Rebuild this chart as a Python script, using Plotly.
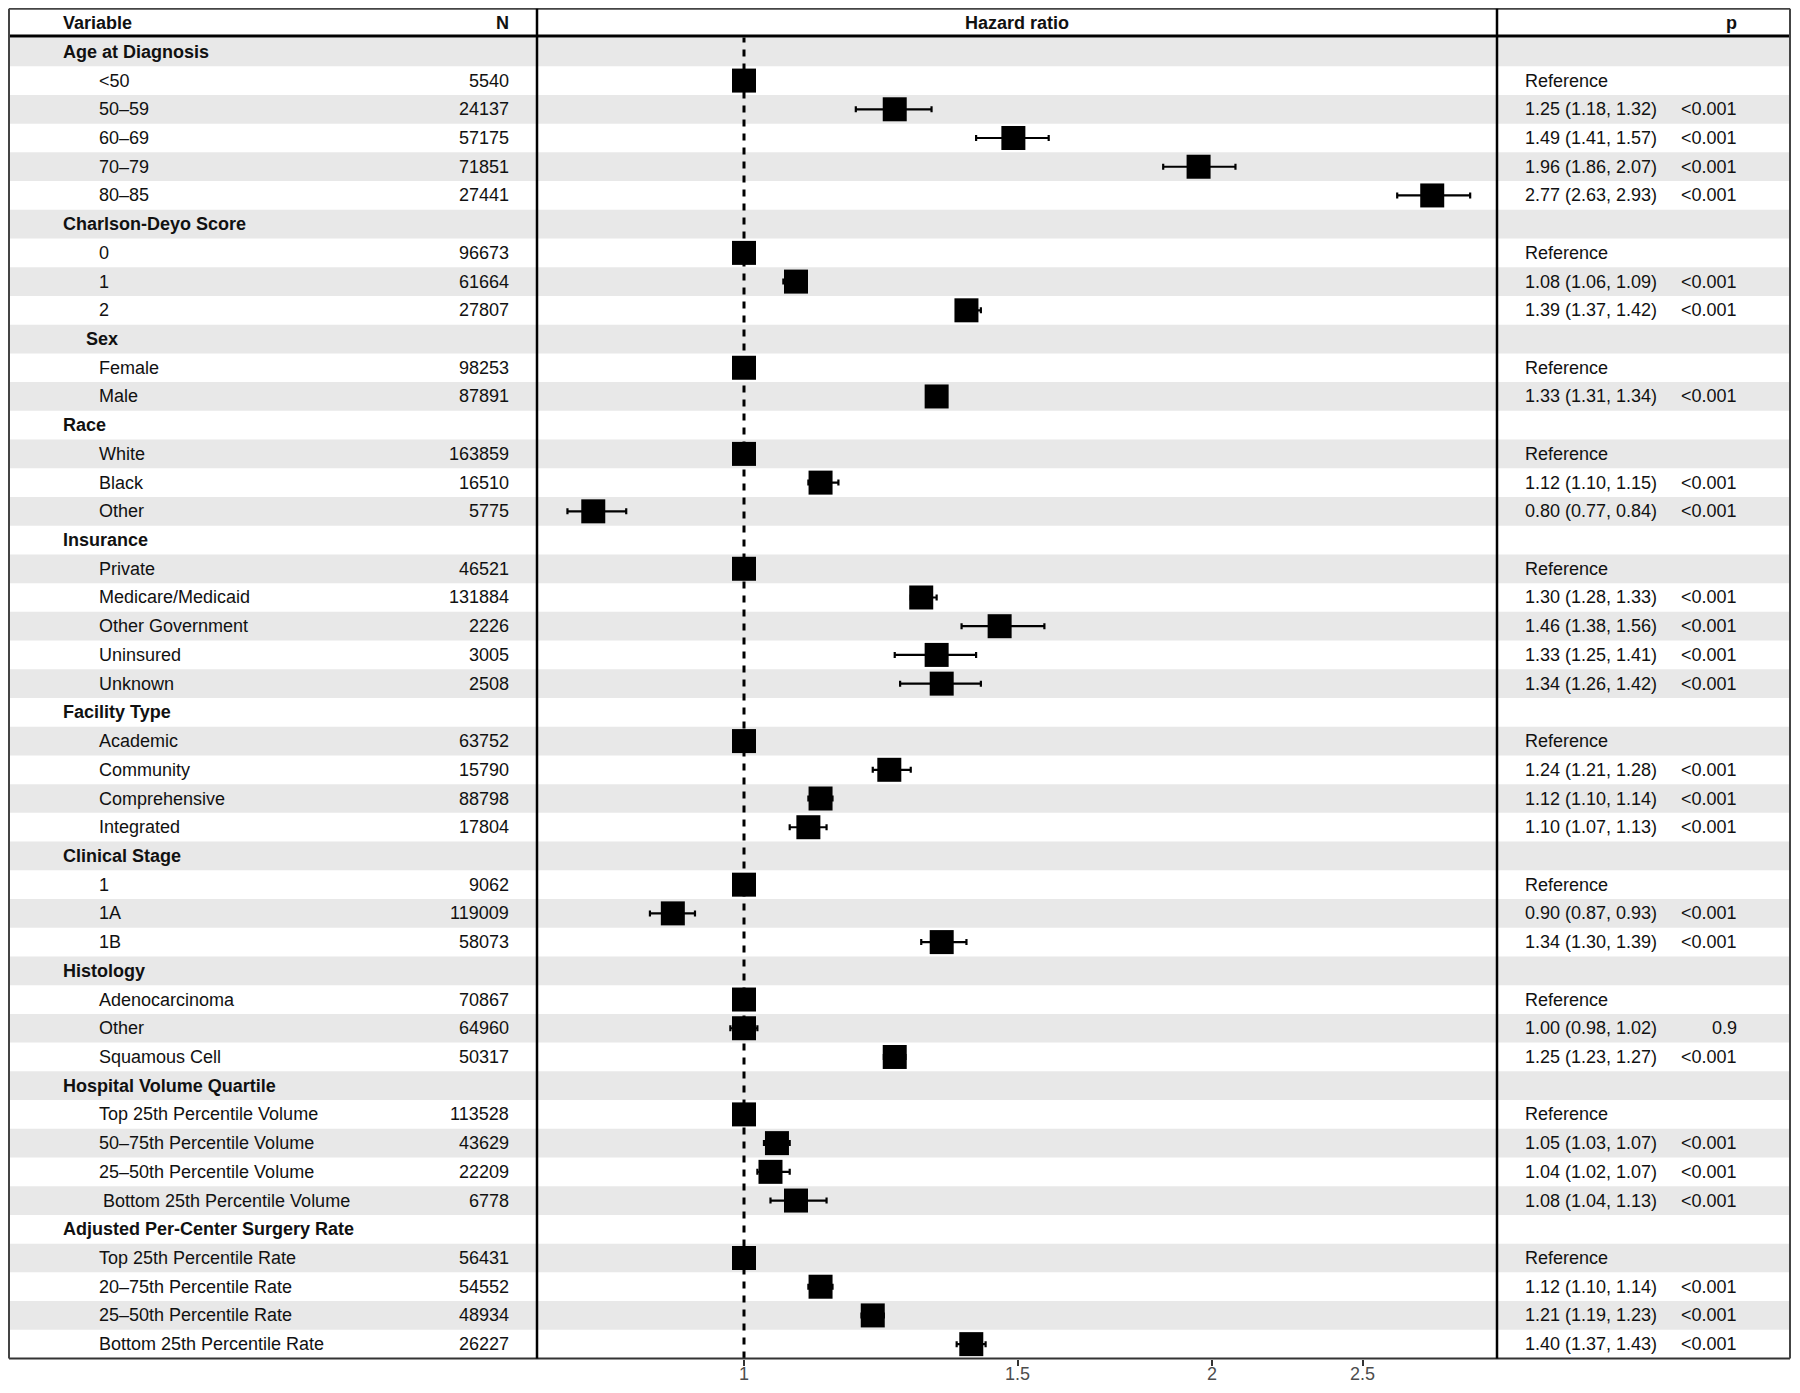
import math
import plotly.graph_objects as go

# ---------------- data ----------------
labels = ["Age at Diagnosis", "<50", "50–59", "60–69", "70–79", "80–85",
          "Charlson-Deyo Score", "0", "1", "2",
          "Sex", "Female", "Male",
          "Race", "White", "Black", "Other",
          "Insurance", "Private", "Medicare/Medicaid", "Other Government", "Uninsured", "Unknown",
          "Facility Type", "Academic", "Community", "Comprehensive", "Integrated",
          "Clinical Stage", "1", "1A", "1B",
          "Histology", "Adenocarcinoma", "Other", "Squamous Cell",
          "Hospital Volume Quartile", "Top 25th Percentile Volume", "50–75th Percentile Volume",
          "25–50th Percentile Volume", "Bottom 25th Percentile Volume",
          "Adjusted Per-Center Surgery Rate", "Top 25th Percentile Rate", "20–75th Percentile Rate",
          "25–50th Percentile Rate", "Bottom 25th Percentile Rate"]

is_group = [True, False, False, False, False, False,
            True, False, False, False,
            True, False, False,
            True, False, False, False,
            True, False, False, False, False, False,
            True, False, False, False, False,
            True, False, False, False,
            True, False, False, False,
            True, False, False, False, False,
            True, False, False, False, False]

n_obs = [None, 5540, 24137, 57175, 71851, 27441,
         None, 96673, 61664, 27807,
         None, 98253, 87891,
         None, 163859, 16510, 5775,
         None, 46521, 131884, 2226, 3005, 2508,
         None, 63752, 15790, 88798, 17804,
         None, 9062, 119009, 58073,
         None, 70867, 64960, 50317,
         None, 113528, 43629, 22209, 6778,
         None, 56431, 54552, 48934, 26227]

hr = [None, 1, 1.25, 1.49, 1.96, 2.77,
      None, 1, 1.08, 1.39,
      None, 1, 1.33,
      None, 1, 1.12, 0.80,
      None, 1, 1.30, 1.46, 1.33, 1.34,
      None, 1, 1.24, 1.12, 1.10,
      None, 1, 0.90, 1.34,
      None, 1, 1.00, 1.25,
      None, 1, 1.05, 1.04, 1.08,
      None, 1, 1.12, 1.21, 1.40]

ci_lo = [None, None, 1.18, 1.41, 1.86, 2.63,
         None, None, 1.06, 1.37,
         None, None, 1.31,
         None, None, 1.10, 0.77,
         None, None, 1.28, 1.38, 1.25, 1.26,
         None, None, 1.21, 1.10, 1.07,
         None, None, 0.87, 1.30,
         None, None, 0.98, 1.23,
         None, None, 1.03, 1.02, 1.04,
         None, None, 1.10, 1.19, 1.37]

ci_hi = [None, None, 1.32, 1.57, 2.07, 2.93,
         None, None, 1.09, 1.42,
         None, None, 1.34,
         None, None, 1.15, 0.84,
         None, None, 1.33, 1.56, 1.41, 1.42,
         None, None, 1.28, 1.14, 1.13,
         None, None, 0.93, 1.39,
         None, None, 1.02, 1.27,
         None, None, 1.07, 1.07, 1.13,
         None, None, 1.14, 1.23, 1.43]

p_values = ["", "", "<0.001", "<0.001", "<0.001", "<0.001",
            "", "", "<0.001", "<0.001",
            "", "", "<0.001",
            "", "", "<0.001", "<0.001",
            "", "", "<0.001", "<0.001", "<0.001", "<0.001",
            "", "", "<0.001", "<0.001", "<0.001",
            "", "", "<0.001", "<0.001",
            "", "", "0.9", "<0.001",
            "", "", "<0.001", "<0.001", "<0.001",
            "", "", "<0.001", "<0.001", "<0.001"]

x_ticks = [1, 1.5, 2, 2.5]
x_tick_labels = ["1", "1.5", "2", "2.5"]

# ---------------- layout geometry (figure pixels) ----------------
W, H = 1784, 1377
ROW_TOP, ROW_BOT = 29.5, 1350.5
PANEL_L, PANEL_R = 529, 1489
BOX_L, BOX_R, BOX_T = 1, 1782, 0.8
FONT = "Liberation Sans, Arial, Helvetica, sans-serif"
TXT = "#111111"
BAND = "#E8E8E8"

def px(v):
    return v / W

def py(v):
    return 1 - v / H

nrows = len(labels)
# log axis range: x=1 at 736 px, 1555.4 px per decade
ONE_PX, DEC_PX = 736, 1555.4
xr = [(PANEL_L - ONE_PX) / DEC_PX, (PANEL_R - ONE_PX) / DEC_PX]

fig = go.Figure()

# markers with CIs
xs, ys, ep, em = [], [], [], []
for i in range(nrows):
    if hr[i] is None:
        continue
    xs.append(hr[i])
    ys.append(i)
    if ci_lo[i] is None:
        ep.append(0)
        em.append(0)
    else:
        ep.append(ci_hi[i] - hr[i])
        em.append(hr[i] - ci_lo[i])

fig.add_trace(go.Scatter(
    x=xs, y=ys, mode="markers",
    marker=dict(symbol="square", size=24, color="black", line=dict(width=0)),
    error_x=dict(type="data", symmetric=False, array=ep, arrayminus=em,
                 color="black", thickness=2.2, width=3),
    hoverinfo="skip", showlegend=False, cliponaxis=False,
))

shapes = []
# row bands
for i in range(0, nrows, 2):
    shapes.append(dict(type="rect", xref="paper", yref="y",
                       x0=px(BOX_L + 1), x1=px(BOX_R - 1), y0=i - 0.5, y1=i + 0.5,
                       fillcolor=BAND, line=dict(width=0), layer="below"))
# reference dashed line
shapes.append(dict(type="line", xref="x", yref="paper", x0=1, x1=1,
                   y0=py(ROW_BOT), y1=py(ROW_TOP),
                   line=dict(color="black", width=3, dash="7px,7px"), layer="below"))
# borders
def hline(yf, color, width, x0=BOX_L, x1=BOX_R):
    shapes.append(dict(type="line", xref="paper", yref="paper", x0=px(x0), x1=px(x1),
                       y0=py(yf), y1=py(yf), line=dict(color=color, width=width), layer="above"))

def vline(xf, color, width, y0=BOX_T, y1=ROW_BOT):
    shapes.append(dict(type="line", xref="paper", yref="paper", x0=px(xf), x1=px(xf),
                       y0=py(y0), y1=py(y1), line=dict(color=color, width=width), layer="above"))

hline(BOX_T, "#444444", 2)
hline(28, "black", 3)
hline(ROW_BOT, "#333333", 2)
vline(BOX_L, "#444444", 2)
vline(BOX_R, "#444444", 2)
vline(PANEL_L, "black", 2.5)
vline(PANEL_R, "black", 2.5)

annotations = []
def ann(text, x, y, xanchor, bold=False, yref="y", color=TXT):
    annotations.append(dict(text=f"<b>{text}</b>" if bold else text,
                            x=px(x), y=y, xref="paper", yref=yref,
                            xanchor=xanchor, yanchor="middle", showarrow=False,
                            borderpad=0, font=dict(family=FONT, size=18, color=color)))

# headers
HEAD_Y = py(15)
ann("Variable", 54, HEAD_Y, "left", True, "paper")
ann("N", 502, HEAD_Y, "right", True, "paper")
ann("Hazard ratio", (PANEL_L + PANEL_R) / 2, HEAD_Y, "center", True, "paper")
ann("p", 1730, HEAD_Y, "right", True, "paper")

special_indent = {"Sex": 77, "Bottom 25th Percentile Volume": 94}
for i in range(nrows):
    lab = labels[i]
    if is_group[i]:
        ann(lab, special_indent.get(lab, 54), i, "left", True)
    else:
        ann(lab, special_indent.get(lab, 89.5), i, "left", False)
    if n_obs[i] is not None:
        ann(str(n_obs[i]), 502, i, "right")
    if hr[i] is not None:
        if ci_lo[i] is None:
            txt = "Reference"
        else:
            txt = f"{hr[i]:.2f} ({ci_lo[i]:.2f}, {ci_hi[i]:.2f})"
        ann(txt, 1516, i, "left")
    if p_values[i]:
        ann(p_values[i].replace("<", "&lt;"), 1730, i, "right")

# x tick labels (placed as annotations on the log axis so they stay inside the page)
for tv, tt in zip(x_ticks, x_tick_labels):
    annotations.append(dict(text=tt, x=math.log10(tv), y=0, xref="x", yref="paper",
                            xanchor="center", yanchor="bottom", showarrow=False,
                            borderpad=0, font=dict(family=FONT, size=18, color="#4d4d4d")))

fig.update_layout(
    width=W, height=H,
    margin=dict(l=0, r=0, t=0, b=0, pad=0),
    paper_bgcolor="white", plot_bgcolor="rgba(0,0,0,0)",
    template="none",
    showlegend=False,
    shapes=shapes, annotations=annotations,
    xaxis=dict(type="log", range=xr, domain=[px(PANEL_L), px(PANEL_R)],
               tickvals=x_ticks, ticktext=x_tick_labels, showticklabels=False,
               ticks="outside", ticklen=6, tickwidth=2, tickcolor="#333333",
               showgrid=False, zeroline=False, showline=False,
               automargin=False, fixedrange=True, anchor="y"),
    yaxis=dict(range=[nrows - 0.5, -0.5], domain=[py(ROW_BOT), py(ROW_TOP)],
               visible=False, showgrid=False, zeroline=False,
               automargin=False, fixedrange=True),
)

fig.write_html("out.html")
